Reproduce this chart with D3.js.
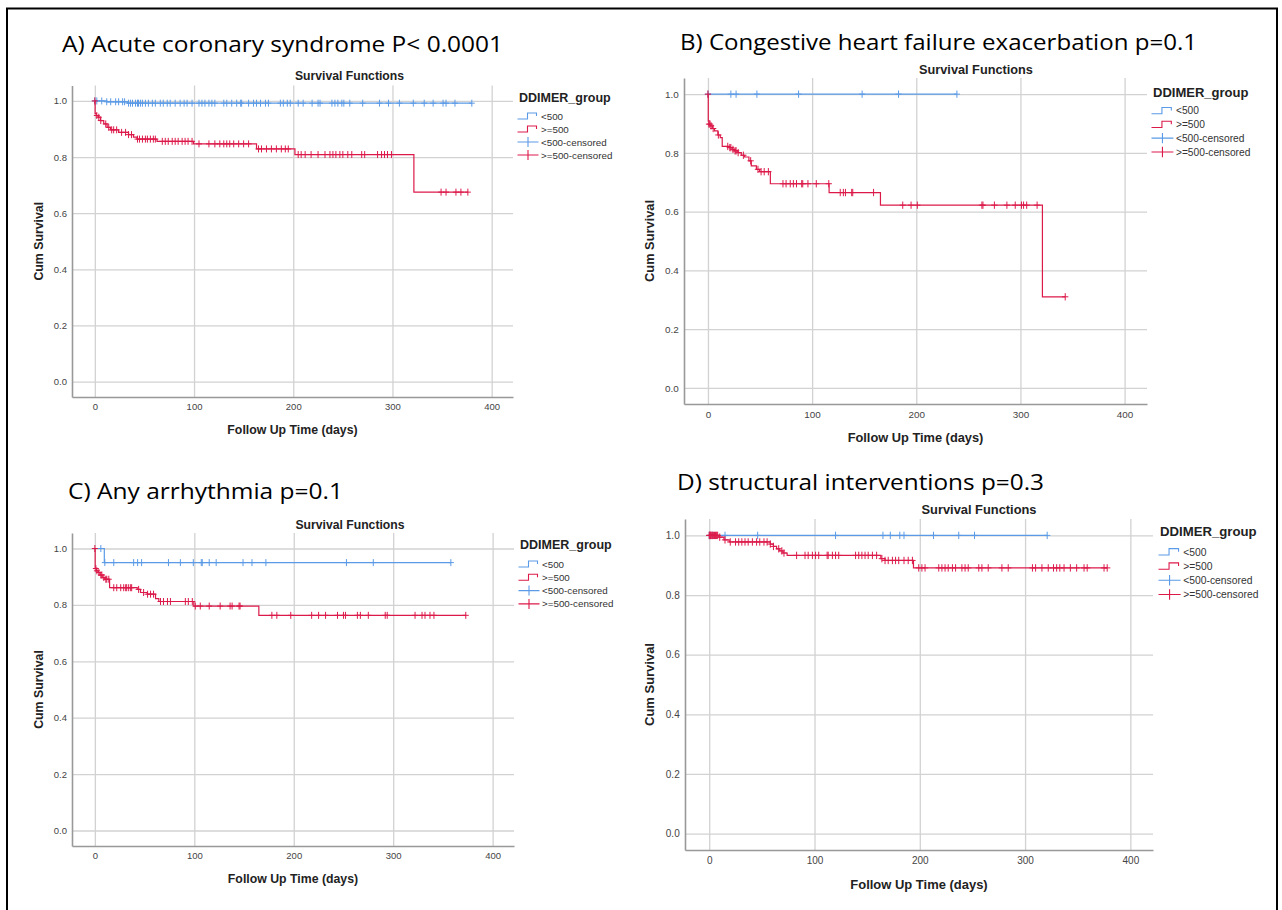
<!DOCTYPE html>
<html>
<head>
<meta charset="utf-8">
<script src="https://cdn.jsdelivr.net/npm/d3@7"></script>
<style>
  body { margin: 0; background: #fff; }
  svg { display: block; }
  .spss { font-family: "Liberation Sans", Arial, sans-serif; }
  .narrow { font-family: "Liberation Sans Narrow", "Arial Narrow", "Liberation Sans", Arial, sans-serif; }
  .heading { font-family: "Open Sans", sans-serif; }
</style>
</head>
<body>
<div id="chart"></div>
<script>
// Constants for the page
const WIDTH = 1282;
const HEIGHT = 910;
const COLOR_LOW = "#5b9ae6";
const COLOR_HIGH = "#dc1a4a";
const X_DOMAIN = [-23, 421.5];
const Y_DOMAIN = [-0.055, 1.055];

// axis ticks and legend texts
const xTicks = [0, 100, 200, 300, 400];
const yTicks = [0, 0.2, 0.4, 0.6, 0.8, 1.0];
const legendLabels = ["<500", ">=500", "<500-censored", ">=500-censored"];

// A) acute coronary syndrome
const acsLowDays = [12, 33];
const acsLowSurv = [0.997, 0.992];
const acsLowCensored = [0, 2, 7, 12, 16, 21, 24, 28, 30, 34, 36, 38, 41, 43, 44, 46, 48, 51, 54, 58, 61, 66, 69,
  73, 76, 81, 86, 90, 93, 98, 105, 108, 111, 115, 118, 121, 130, 133, 138, 143, 147, 148, 155, 160, 163, 167,
  172, 175, 187, 190, 194, 197, 205, 210, 219, 225, 227, 239, 242, 245, 249, 251, 257, 270, 287, 296, 307,
  321, 332, 341, 351, 354, 363, 380];
const acsHighDays = [0.3, 1.5, 3.4, 5.7, 9, 12.4, 15.8, 24, 34, 39, 42.6, 62.7, 99.5, 163, 201.7, 321.6];
const acsHighSurv = [0.955, 0.948, 0.942, 0.930, 0.918, 0.906, 0.897, 0.888, 0.880, 0.871, 0.864, 0.856,
  0.847, 0.829, 0.809, 0.675];
const acsHighCensored = [0, 2, 4, 6, 11, 14, 17, 19, 22, 27, 31, 34, 37, 43, 45, 48, 51, 53, 56, 59, 61, 68, 71,
  74, 78, 81, 84, 88, 91, 94, 98, 105, 115, 121, 126, 130, 133, 136, 140, 145, 150, 155, 165, 168, 173, 178,
  183, 188, 192, 195, 205, 208, 212, 218, 225, 232, 237, 240, 243, 247, 250, 255, 259, 269, 272, 285, 289,
  292, 295, 299, 349, 354, 364, 369, 376];

// B) congestive heart failure exacerbation
const chfLowDays = [];
const chfLowSurv = [];
const chfLowCensored = [0, 22, 27, 47, 87, 148, 183, 239];
const chfHighDays = [0.3, 1, 2.2, 4.2, 6.3, 9.5, 11.8, 13.7, 20.8, 23.3, 25.6, 28.8, 32, 35.2, 39.3, 41.6,
  46.5, 49.6, 59.9, 116.3, 165.6, 321.1];
const chfHighSurv = [0.909, 0.898, 0.892, 0.883, 0.875, 0.861, 0.852, 0.822, 0.818, 0.812, 0.807, 0.801,
  0.792, 0.786, 0.773, 0.756, 0.744, 0.736, 0.695, 0.665, 0.622, 0.310];
const chfHighCensored = [0, 1, 2, 3, 5, 10, 19, 21, 22, 24, 26, 27, 29, 34, 41, 48, 51, 54, 58, 72, 75, 79, 82,
  85, 90, 91, 96, 104, 116, 127, 130, 132, 138, 139, 159, 187, 195, 201, 263, 264, 275, 287, 295, 301, 303,
  306, 316, 343];

// C) any arrhythmia
const arrLowDays = [9.5];
const arrLowSurv = [0.950];
const arrLowCensored = [6, 10, 19, 39, 43, 47, 74, 86, 99, 107, 108, 115, 122, 149, 158, 172, 253, 280, 358];
const arrHighDays = [0.3, 1.7, 3.4, 5.1, 7.4, 10.1, 14.8, 42.6, 45.9, 52.6, 61, 64.3, 99.5, 164.9];
const arrHighSurv = [0.929, 0.921, 0.915, 0.906, 0.897, 0.891, 0.861, 0.855, 0.844, 0.838, 0.822, 0.812,
  0.796, 0.763];
const arrHighCensored = [0, 1, 2, 4, 6, 7, 9, 11, 12, 14, 19, 22, 26, 29, 31, 32, 34, 36, 37, 44, 49, 53, 56,
  59, 66, 69, 73, 76, 91, 94, 98, 101, 106, 115, 126, 136, 138, 145, 146, 178, 183, 197, 218, 225, 232, 244,
  250, 252, 264, 267, 275, 292, 294, 322, 329, 332, 337, 341, 373];

// D) structural interventions
const strLowDays = [];
const strLowSurv = [];
const strLowCensored = [0, 3, 15, 46, 120, 165, 172, 181, 185, 213, 237, 252, 321];
const strHighDays = [9, 14, 19, 58, 61, 64, 67, 70, 74, 163, 167, 194];
const strHighSurv = [0.994, 0.985, 0.978, 0.971, 0.963, 0.955, 0.948, 0.941, 0.933, 0.922, 0.916, 0.891];
const strHighCensored = [0, 0.5, 1, 1.5, 2, 3, 4, 5, 6, 7, 8, 10, 15, 20, 25, 28, 31, 34, 37, 41, 45, 48, 52,
  55, 58, 61, 66, 69, 71, 83, 91, 94, 98, 101, 104, 112, 113, 117, 120, 123, 139, 142, 145, 148, 151, 155,
  159, 164, 167, 170, 174, 177, 180, 185, 189, 193, 199, 202, 205, 218, 221, 224, 227, 231, 234, 240, 243,
  246, 256, 259, 265, 278, 284, 307, 310, 316, 322, 327, 330, 333, 337, 343, 349, 356, 359, 375, 378];

// layout of the four pasted SPSS pictures (s = picture scale)
const panels = [
  {
    heading: "A) Acute coronary syndrome P< 0.0001", hx: 62, hy: 52, hw: 441,
    plot: { left: 72, top: 85.5, right: 513, bottom: 397 }, s: 1,
    titleX: 349.5, titleY: 80,
    legend: { x: 519, y: 101.5, first: 14.5, step: 13 },
    low: [acsLowDays, acsLowSurv, acsLowCensored],
    high: [acsHighDays, acsHighSurv, acsHighCensored]
  },
  {
    heading: "B) Congestive heart failure exacerbation p=0.1", hx: 680, hy: 49.5, hw: 517,
    plot: { left: 684, top: 78, right: 1147, bottom: 404 }, s: 1.043,
    titleX: 976, titleY: 74,
    legend: { x: 1153, y: 97, first: 13, step: 13.8 },
    low: [chfLowDays, chfLowSurv, chfLowCensored],
    high: [chfHighDays, chfHighSurv, chfHighCensored]
  },
  {
    heading: "C) Any arrhythmia p=0.1", hx: 68, hy: 499, hw: 275,
    plot: { left: 72, top: 533, right: 514, bottom: 846 }, s: 1,
    titleX: 350, titleY: 529,
    legend: { x: 520, y: 549, first: 15, step: 13.3 },
    low: [arrLowDays, arrLowSurv, arrLowCensored],
    high: [arrHighDays, arrHighSurv, arrHighCensored]
  },
  {
    heading: "D) structural interventions p=0.3", hx: 677, hy: 489.5, hw: 367,
    plot: { left: 685, top: 519, right: 1153, bottom: 850 }, s: 1.055,
    titleX: 979, titleY: 514,
    legend: { x: 1160, y: 536, first: 15, step: 14.2 },
    low: [strLowDays, strLowSurv, strLowCensored],
    high: [strHighDays, strHighSurv, strHighCensored]
  }
];

const svg = d3.select("#chart")
  .append("svg")
  .attr("width", WIDTH)
  .attr("height", HEIGHT);

svg.append("rect")
  .attr("width", WIDTH)
  .attr("height", HEIGHT)
  .attr("fill", "#fff");

// black frame round the figure
svg.append("rect")
  .attr("x", 7)
  .attr("y", 8.5)
  .attr("width", 1270)
  .attr("height", 920)
  .attr("fill", "none")
  .attr("stroke", "#000")
  .attr("stroke-width", 2);

panels.forEach(drawPanel);

/**
 * survival value at time t for a step curve
 */
function survAt(days, surv, t) {
  let s = 1;
  days.forEach(function (d, i) {
    if (d <= t) s = surv[i];
  });
  return s;
}

/**
 * draw one Kaplan-Meier panel
 */
function drawPanel(p) {
  const s = p.s;
  const box = p.plot;
  const g = svg.append("g");

  const x = d3.scaleLinear().domain(X_DOMAIN).range([box.left, box.right]);
  const y = d3.scaleLinear().domain(Y_DOMAIN).range([box.bottom, box.top]);

  // heading typed above the picture
  g.append("text")
    .attr("class", "heading")
    .attr("x", p.hx)
    .attr("y", p.hy)
    .attr("textLength", p.hw)
    .attr("lengthAdjust", "spacingAndGlyphs")
    .style("font-size", "22px")
    .attr("fill", "#000")
    .text(p.heading);

  g.append("text")
    .attr("class", "spss")
    .attr("x", p.titleX)
    .attr("y", p.titleY)
    .attr("text-anchor", "middle")
    .style("font-size", (12.2 * s) + "px")
    .style("font-weight", "bold")
    .attr("fill", "#222")
    .text("Survival Functions");

  // axes with grid lines
  const gx = g.append("g")
    .attr("class", "narrow")
    .attr("transform", "translate(0," + box.bottom + ")")
    .call(d3.axisBottom(x)
      .tickValues(xTicks)
      .tickSize(-(box.bottom - box.top))
      .tickSizeOuter(0)
      .tickPadding(6.5 * s));

  const gy = g.append("g")
    .attr("class", "narrow")
    .attr("transform", "translate(" + box.left + ",0)")
    .call(d3.axisLeft(y)
      .tickValues(yTicks)
      .tickFormat(d3.format(".1f"))
      .tickSize(-(box.right - box.left))
      .tickSizeOuter(0)
      .tickPadding(5 * s));

  [gx, gy].forEach(function (ax) {
    ax.attr("font-family", null).attr("font-size", null);
    ax.select(".domain").attr("stroke", "#999").attr("stroke-width", 1.6);
    ax.selectAll(".tick line").attr("stroke", "#d2d2d2").attr("stroke-width", 1.3);
    ax.selectAll(".tick text")
      .attr("fill", "#444")
      .style("font-size", (9.5 * s) + "px");
  });
  gx.select(".domain").raise();
  gy.select(".domain").raise();

  g.append("text")
    .attr("class", "spss")
    .attr("x", (box.left + box.right) / 2)
    .attr("y", box.bottom + 36.5 * s)
    .attr("text-anchor", "middle")
    .style("font-size", (12.3 * s) + "px")
    .style("font-weight", "bold")
    .attr("fill", "#222")
    .text("Follow Up Time (days)");

  g.append("text")
    .attr("class", "spss")
    .attr("transform", "translate(" + (box.left - 29 * s) + "," + ((box.top + box.bottom) / 2) + ") rotate(-90)")
    .attr("text-anchor", "middle")
    .style("font-size", (12.3 * s) + "px")
    .style("font-weight", "bold")
    .attr("fill", "#222")
    .text("Cum Survival");

  // curves: <500 first, >=500 on top
  [[p.low, COLOR_LOW], [p.high, COLOR_HIGH]].forEach(function (series) {
    const days = series[0][0], surv = series[0][1], censored = series[0][2];
    const color = series[1];
    const end = Math.max(d3.max(censored), d3.max(days) || 0);
    const pts = [[0, 1]].concat(days.map(function (d, i) { return [d, surv[i]]; }));
    pts.push([end, surv.length ? surv[surv.length - 1] : 1]);

    g.append("path")
      .datum(pts)
      .attr("fill", "none")
      .attr("stroke", color)
      .attr("stroke-width", 1.2)
      .attr("d", d3.line()
        .curve(d3.curveStepAfter)
        .x(function (d) { return x(d[0]); })
        .y(function (d) { return y(d[1]); }));

    g.append("g")
      .selectAll("path")
      .data(censored)
      .enter()
      .append("path")
      .attr("fill", "none")
      .attr("stroke", color)
      .attr("stroke-width", 1)
      .attr("d", function (t) {
        const cx = x(t), cy = y(survAt(days, surv, t));
        return "M" + (cx - 3 * s) + "," + cy + "H" + (cx + 3 * s) +
          "M" + cx + "," + (cy - 3.5 * s) + "V" + (cy + 3.5 * s);
      });
  });

  // legend
  const lg = p.legend;
  g.append("text")
    .attr("class", "spss")
    .attr("x", lg.x)
    .attr("y", lg.y)
    .style("font-size", (12.5 * s) + "px")
    .style("font-weight", "bold")
    .attr("fill", "#222")
    .text("DDIMER_group");

  legendLabels.forEach(function (label, i) {
    const ly = lg.y + lg.first * s + i * lg.step;
    const x0 = lg.x - 1.5;
    const color = i % 2 === 0 ? COLOR_LOW : COLOR_HIGH;
    let d;
    if (i < 2) {
      d = "M" + x0 + "," + (ly + 3 * s) + "H" + (x0 + 10 * s) + "V" + (ly - 3 * s) +
        "H" + (x0 + 19 * s) + "V" + ly;
    } else {
      d = "M" + x0 + "," + ly + "H" + (x0 + 21 * s) +
        "M" + (x0 + 10.5 * s) + "," + (ly - 5 * s) + "V" + (ly + 5 * s);
    }
    g.append("path")
      .attr("d", d)
      .attr("fill", "none")
      .attr("stroke", color)
      .attr("stroke-width", 1.1);

    g.append("text")
      .attr("class", "spss")
      .attr("x", lg.x + 22 * s)
      .attr("y", ly + 3.5 * s)
      .style("font-size", (9.8 * s) + "px")
      .attr("fill", "#333")
      .text(label);
  });
}
</script>
</body>
</html>
